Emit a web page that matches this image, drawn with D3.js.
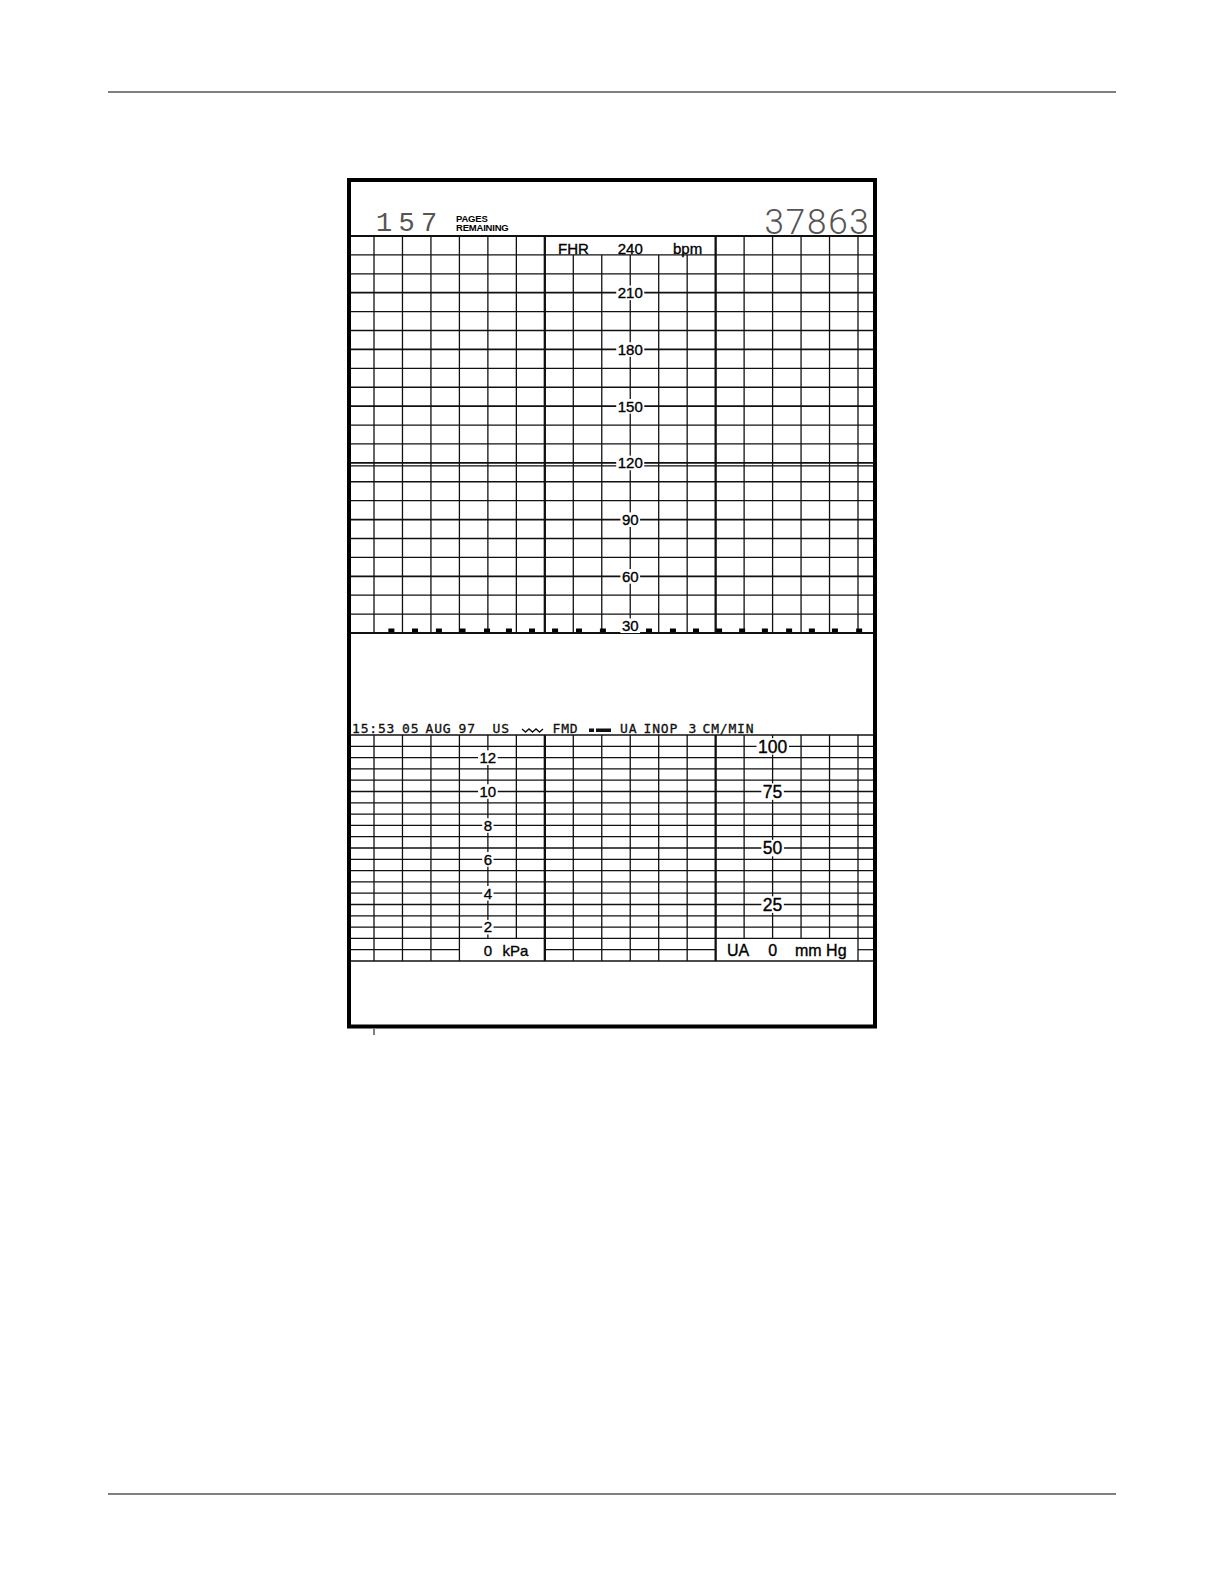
<!DOCTYPE html>
<html><head><meta charset="utf-8">
<script src="https://cdn.jsdelivr.net/npm/d3@7"></script>
<style>body{margin:0;background:#fff} svg{display:block}</style>
</head><body>
<svg id="c" width="1224" height="1584"></svg>
<script>
// ---------- data ----------
const fhrDomain = [30, 240];          // bpm
const fhrTicks = [210, 180, 150, 120, 90, 60];
const fhrBottomTick = 30;
const fhrTopTick = 240;
const fhrDoubleLine = 120;
const uaDomain = [0, 100];            // mm Hg
const mmHgTicks = [100, 75, 50, 25];
const kpaTicks = [12, 10, 8, 6, 4, 2];
const timeDomain = [0, 170];          // seconds across the strip
const minuteLines = [60, 120];
const fmdMarks = [6.1, 14.4, 22.8, 31.1, 39.7, 47.4, 55.5, 63.6, 72.0, 80.4, 88.5,
                  96.6, 105.0, 113.1, 121.2, 129.3, 137.3, 145.8, 153.8, 161.9, 170.4];
const pagesRemaining = "157";
const pagesLabel = ["PAGES", "REMAINING"];
const serialNo = "37863";
const annotTokens = ["15:53", "05", "AUG", "97", "US", "FMD", "UA", "INOP", "3", "CM/MIN"];

// ---------- layout ----------
const svg = d3.select('#c');
const FL = 349, FR = 875, FT = 180, FB = 1026.5;
const X = d3.scaleLinear(timeDomain, [374, 858]);
const yF = d3.scaleLinear(fhrDomain, [633, 236]);
const yU = d3.scaleLinear(uaDomain, [961, 735]);
const yK = d3.scaleLinear([0, 100 / 7.50062], [961, 735]);
const INK = '#111';
const SANS = '"Liberation Sans", Arial, Helvetica, sans-serif';

// page rules
svg.append('line').attr('x1',108).attr('x2',1116).attr('y1',92).attr('y2',92).attr('stroke','#000').attr('stroke-width',1);
svg.append('line').attr('x1',108).attr('x2',1116).attr('y1',1494).attr('y2',1494).attr('stroke','#000').attr('stroke-width',1);

const grid = svg.append('g').attr('stroke', INK).attr('fill','none');

// ---- FHR grid ----
const fhrLines = yF.ticks(21);
grid.selectAll('line.fh').data(fhrLines).join('line')
  .attr('x1', FL).attr('x2', FR)
  .attr('y1', d => yF(d)).attr('y2', d => yF(d))
  .attr('stroke-width', d => d % 30 === 0 ? 1.8 : 1.3);
grid.append('line').attr('x1', FL).attr('x2', FR)
  .attr('y1', yF(fhrDoubleLine) + 3).attr('y2', yF(fhrDoubleLine) + 3).attr('stroke-width', 1.2);

const tLines = X.ticks(17);
const isMinute = t => minuteLines.includes(t);
grid.selectAll('line.fv').data(tLines).join('line')
  .attr('x1', d => X(d)).attr('x2', d => X(d))
  .attr('y1', d => (d > minuteLines[0] && d < minuteLines[1]) ? yF(230) : yF(fhrTopTick))
  .attr('y2', yF(fhrBottomTick))
  .attr('stroke-width', d => isMinute(d) ? 2.3 : 1.3);

// ---- UA grid ----
const uaLines = yU.ticks(20);
const kBox = [30, 60], uBox = [120, 170];
uaLines.forEach(v => {
  const y = yU(v);
  const sw = v % 25 === 0 ? 1.6 : 1.25;
  if (v < 10 && v > 0) {
    [[FL, X(kBox[0])], [X(kBox[1]), X(uBox[0])], [X(uBox[1]), FR]].forEach(s => {
      grid.append('line').attr('x1',s[0]).attr('x2',s[1]).attr('y1',y).attr('y2',y).attr('stroke-width',sw);
    });
  } else {
    grid.append('line').attr('x1',FL).attr('x2',FR).attr('y1',y).attr('y2',y).attr('stroke-width',sw);
  }
});
grid.selectAll('line.uv').data(tLines).join('line')
  .attr('x1', d => X(d)).attr('x2', d => X(d))
  .attr('y1', yU(100))
  .attr('y2', d => ((d > kBox[0] && d < kBox[1]) || (d > uBox[0] && d < uBox[1])) ? yU(10) : yU(0))
  .attr('stroke-width', d => isMinute(d) ? 2.3 : 1.3);

// FMD marks near the 30 bpm line
svg.selectAll('rect.fmd').data(fmdMarks).join('rect')
  .attr('x', d => X(d) - 3).attr('y', yF(fhrBottomTick) - 4.5)
  .attr('width', 6).attr('height', 3.5).attr('fill', '#000');

// ---- labels ----
const lab = svg.append('g').attr('font-family', SANS).attr('fill', '#000')
  .attr('stroke', '#000').attr('stroke-width', 0.35);
function boxed(x, baseline, txt, fs, pad) {
  pad = pad == null ? 1.5 : pad;
  const g = lab.append('g');
  const r = g.append('rect').attr('fill', '#fff').attr('stroke', 'none');
  const t = g.append('text').attr('x', x).attr('y', baseline)
    .attr('text-anchor', 'middle').attr('font-size', fs).text(txt);
  const b = t.node().getBBox();
  r.attr('x', b.x - pad).attr('width', b.width + 2 * pad)
   .attr('y', baseline - 0.74 * fs - pad).attr('height', 0.74 * fs + 2 * pad + 0.5);
}
function plain(x, baseline, txt, fs, anchor) {
  lab.append('text').attr('x', x).attr('y', baseline)
    .attr('text-anchor', anchor || 'start').attr('font-size', fs).text(txt);
}

// FHR scale labels
const fhrCol = X(90);
fhrTicks.forEach(v => boxed(fhrCol, yF(v) + 5.4, String(v), 15));
boxed(fhrCol, yF(fhrBottomTick) - 2, String(fhrBottomTick), 15);
plain(558, 253.5, 'FHR', 15);
plain(fhrCol, 253.5, String(fhrTopTick), 15, 'middle');
plain(673, 253.5, 'bpm', 15);

// kPa labels
const kCol = X(40);
kpaTicks.forEach(v => boxed(kCol, yK(v) + 5.4, String(v), 15));
plain(kCol, 955.5, '0', 15, 'middle');
plain(502.5, 955.5, 'kPa', 15);

// mm Hg labels
const uCol = X(140);
mmHgTicks.forEach(v => {
  const yy = v === uaDomain[1] ? yU(95) : yU(v);
  boxed(uCol, yy + 6.3, String(v), 17.5);
});
plain(727, 955.5, 'UA', 16);
plain(uCol, 955.5, '0', 16, 'middle');
plain(795, 955.5, 'mm Hg', 16);

// ---- header ----
svg.append('text').attr('x', 376).attr('y', 231)
  .attr('font-family', '"Liberation Mono", "Courier New", monospace')
  .attr('font-size', 27).attr('letter-spacing', 6.3).attr('fill', '#555')
  .text(pagesRemaining);
pagesLabel.forEach((s, i) => {
  svg.append('text').attr('x', 456).attr('y', 221.5 + i * 9.5)
    .attr('font-family', SANS).attr('font-weight', 'bold').attr('font-size', 9.5)
    .attr('letter-spacing', -0.2).attr('fill', '#000').text(s);
});
svg.append('text').attr('x', 764.5).attr('y', 233.5)
  .attr('font-family', 'Roboto, "DejaVu Sans", sans-serif').attr('font-weight', 300)
  .attr('font-size', 35).attr('letter-spacing', 1.8).attr('fill', '#555')
  .text(serialNo);

// ---- annotation line ----
const ann = svg.append('g').attr('font-family', '"DejaVu Sans Mono", monospace')
  .attr('font-size', 13).attr('letter-spacing', 0.8).attr('fill', '#111')
  .attr('stroke', '#111').attr('stroke-width', 0.3);
const annX = [352, 402, 425.5, 458.5, 492.5, 552.5, 620, 643.5, 688.5, 702.5];
annotTokens.forEach((s, i) => ann.append('text').attr('x', annX[i]).attr('y', 733).text(s));
// US wave symbol
svg.append('path').attr('fill', 'none').attr('stroke', '#111').attr('stroke-width', 1.4)
  .attr('d', 'M522,729 l3.5,3 l3.5,-3 l3.5,3 l3.5,-3 l3.5,3 l3.5,-3');
// FMD symbol
svg.append('rect').attr('x', 589).attr('y', 728.5).attr('width', 5).attr('height', 3.5).attr('fill', '#111');
svg.append('rect').attr('x', 596).attr('y', 728.5).attr('width', 15).attr('height', 3.5).attr('fill', '#111');

// ---- frame ----
svg.append('rect').attr('x', FL).attr('y', FT).attr('width', FR - FL).attr('height', FB - FT)
  .attr('fill', 'none').attr('stroke', '#000').attr('stroke-width', 4);
svg.append('line').attr('x1', 374).attr('x2', 374).attr('y1', 1029).attr('y2', 1035)
  .attr('stroke', '#000').attr('stroke-width', 1);
</script>
</body></html>
